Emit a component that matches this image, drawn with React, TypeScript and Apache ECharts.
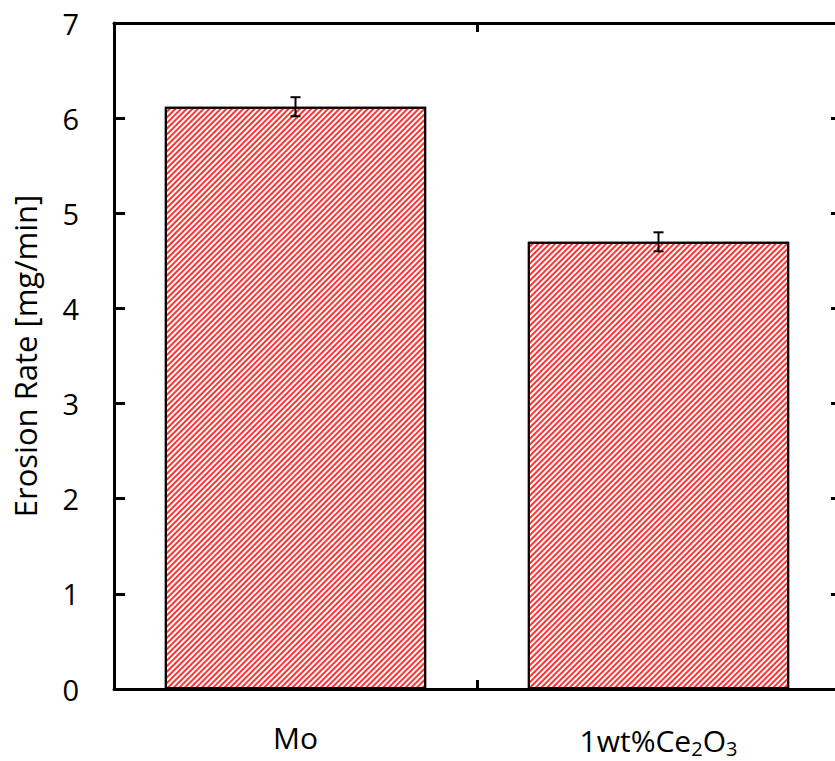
import React, { useEffect, useRef } from "react";
import * as echarts from "echarts";

const categories = ["Mo", "1wt%Ce2O3"];
const categoryLabels = ["Mo", "1wt%Ce{sub|2}O{sub|3}"];
const erosionRate = [6.12, 4.7];
const errorHalfWidth = [0.1, 0.1];
const yTicks = { min: 0, max: 7, interval: 1 };

const FONT = "'Open Sans', 'Noto Sans', sans-serif";

export default function App() {
  const ref = useRef<HTMLDivElement>(null);

  useEffect(() => {
    if (!ref.current) return;
    const chart = echarts.init(ref.current, undefined, { renderer: "svg" });

    const errorData = categories.map((_, i) => [
      i,
      erosionRate[i] - errorHalfWidth[i],
      erosionRate[i] + errorHalfWidth[i],
    ]);

    const axisLine = { show: true, onZero: false, lineStyle: { color: "#000", width: 3 } };
    const tick = (length: number) => ({
      show: true,
      inside: true,
      length,
      lineStyle: { color: "#000", width: 3 },
    });

    chart.setOption({
      animation: false,
      backgroundColor: "#fff",
      textStyle: { fontFamily: FONT },
      grid: {
        left: 114,
        right: -5,
        top: 23,
        bottom: 72,
        containLabel: false,
        outerBoundsMode: "none",
      },
      xAxis: [
        {
          type: "category",
          data: categories,
          position: "bottom",
          axisLine,
          axisTick: tick(9),
          axisLabel: {
            interval: 0,
            margin: 33,
            color: "#000",
            fontSize: 30,
            fontFamily: FONT,
            formatter: (_v: string, idx: number) => categoryLabels[idx],
            rich: {
              sub: {
                fontSize: 20,
                verticalAlign: "bottom",
                padding: [16, 0, 0, 0],
                color: "#000",
                fontFamily: FONT,
              },
            },
          },
          splitLine: { show: false },
        },
        {
          type: "category",
          data: categories,
          position: "top",
          axisLine,
          axisTick: tick(9),
          axisLabel: { show: false },
          splitLine: { show: false },
        },
      ],
      yAxis: [
        {
          type: "value",
          min: yTicks.min,
          max: yTicks.max,
          interval: yTicks.interval,
          position: "left",
          name: "Erosion Rate [mg/min]",
          nameLocation: "middle",
          nameGap: 74,
          nameTextStyle: { fontSize: 31, color: "#000", fontFamily: FONT },
          axisLine,
          axisTick: tick(11),
          axisLabel: { margin: 35, color: "#000", fontSize: 29, fontFamily: FONT },
          splitLine: { show: false },
        },
        {
          type: "value",
          min: yTicks.min,
          max: yTicks.max,
          interval: yTicks.interval,
          position: "right",
          axisLine,
          axisTick: tick(9),
          axisLabel: { show: false },
          splitLine: { show: false },
        },
      ],
      series: [
        {
          type: "bar",
          data: erosionRate,
          barWidth: "72%",
          itemStyle: {
            color: "#fff",
            borderColor: "#000",
            borderWidth: 2,
            decal: {
              symbol: "rect",
              symbolSize: 1,
              color: "rgba(255,0,0,0.8)",
              dashArrayX: [1, 0],
              dashArrayY: [1.4, 1.7],
              rotation: -Math.PI / 4,
            },
          },
        },
        {
          type: "custom",
          data: errorData,
          z: 10,
          renderItem: (_params: any, api: any) => {
            const x = api.value(0);
            const top = api.coord([x, api.value(2)]);
            const bottom = api.coord([x, api.value(1)]);
            const cap = 5;
            const style = { stroke: "#000", lineWidth: 2 };
            return {
              type: "group",
              children: [
                { type: "line", shape: { x1: top[0], y1: top[1], x2: bottom[0], y2: bottom[1] }, style },
                { type: "line", shape: { x1: top[0] - cap, y1: top[1], x2: top[0] + cap, y2: top[1] }, style },
                { type: "line", shape: { x1: bottom[0] - cap, y1: bottom[1], x2: bottom[0] + cap, y2: bottom[1] }, style },
              ],
            };
          },
        },
      ],
    });

    return () => chart.dispose();
  }, []);

  return (
    <div
      ref={ref}
      style={{ position: "absolute", left: 0, top: 0, width: 835, height: 761 }}
    />
  );
}
